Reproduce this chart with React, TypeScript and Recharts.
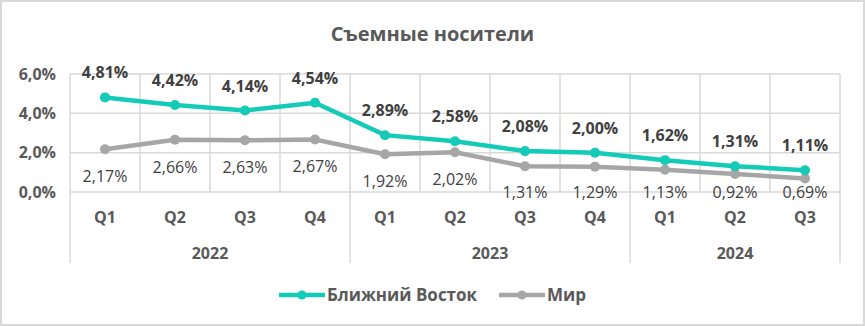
import React from 'react';
import { LineChart, Line, XAxis, YAxis, CartesianGrid, Legend, LabelList } from 'recharts';

const quarters = ['Q1', 'Q2', 'Q3', 'Q4', 'Q1', 'Q2', 'Q3', 'Q4', 'Q1', 'Q2', 'Q3'];
const years = ['2022', '2022', '2022', '2022', '2023', '2023', '2023', '2023', '2024', '2024', '2024'];
const middleEast = [4.81, 4.42, 4.14, 4.54, 2.89, 2.58, 2.08, 2.0, 1.62, 1.31, 1.11];
const world = [2.17, 2.66, 2.63, 2.67, 1.92, 2.02, 1.31, 1.29, 1.13, 0.92, 0.69];
const yTicks = [0, 2, 4, 6];

const data = quarters.map((q, i) => ({ q, year: years[i], me: middleEast[i], world: world[i] }));

const W = 865;
const H = 326;
const M = { top: 74, right: 25, bottom: 63, left: 10 };
const Y_AXIS_W = 60;
const X_AXIS_H = 71;
const PLOT_LEFT = M.left + Y_AXIS_W;
const PLOT_W = W - PLOT_LEFT - M.right;
const PLOT_BOTTOM = H - M.bottom - X_AXIS_H;
const BAND = PLOT_W / quarters.length;

const TEAL = '#14CBB7';
const GRAY = '#A6A6A6';
const GRID = '#D9D9D9';
const TEXT = '#595959';
const FONT = '"Open Sans", sans-serif';

const fmt = (v: number, d: number) => v.toFixed(d).replace('.', ',') + '%';

function QuarterTick(props: any) {
  const { x, y, payload, index } = props;
  const i = index ?? payload.index;
  const yr = years[i];
  const start = years.indexOf(yr);
  const end = years.lastIndexOf(yr);
  const center = (start + end) / 2;
  return (
    <g>
      <text x={x} y={y + 25} textAnchor="middle" dominantBaseline="central"
        fontFamily={FONT} fontSize={16} fontWeight="bold" fill={TEXT}>{payload.value}</text>
      {i === start && <line x1={x - BAND / 2} x2={x - BAND / 2} y1={y} y2={y + X_AXIS_H} stroke={GRID} strokeWidth={1.5} />}
      {i === quarters.length - 1 && <line x1={x + BAND / 2} x2={x + BAND / 2} y1={y} y2={y + X_AXIS_H} stroke={GRID} strokeWidth={1.5} />}
      {i === Math.floor(center) && (
        <text x={x + (center - i) * BAND} y={y + 61} textAnchor="middle" dominantBaseline="central"
          fontFamily={FONT} fontSize={16} fontWeight="bold" fill={TEXT}>{yr}</text>
      )}
    </g>
  );
}

const pos = (p: any) => ({
  x: p.x ?? p.viewBox?.x ?? 0,
  y: p.y ?? p.viewBox?.y ?? 0,
});

function TopLabel(p: any) {
  const { x, y } = pos(p);
  return (
    <text x={x} y={y - 25} textAnchor="middle" dominantBaseline="central"
      fontFamily={FONT} fontSize={16} fontWeight="bold" fill="#404040">{fmt(p.value, 2)}</text>
  );
}

function BottomLabel(p: any) {
  const { x, y } = pos(p);
  return (
    <text x={x} y={Math.min(y + 27, PLOT_BOTTOM)} textAnchor="middle" dominantBaseline="central"
      fontFamily={FONT} fontSize={16} fill="#404040">{fmt(p.value, 2)}</text>
  );
}

function LegendContent() {
  const items = [
    { name: 'Ближний Восток', color: TEAL },
    { name: 'Мир', color: GRAY },
  ];
  return (
    <div style={{ display: 'flex', justifyContent: 'center', gap: 22, fontFamily: FONT }}>
      {items.map((it) => (
        <div key={it.name} style={{ display: 'flex', alignItems: 'center' }}>
          <svg width={46} height={14}>
            <line x1={1} x2={45} y1={7} y2={7} stroke={it.color} strokeWidth={4.5} strokeLinecap="round" />
            <circle cx={23} cy={7} r={4.5} fill={it.color} />
          </svg>
          <span style={{ fontSize: 17, fontWeight: 'bold', color: TEXT, marginLeft: 2 }}>{it.name}</span>
        </div>
      ))}
    </div>
  );
}

export default function App() {
  return (
    <div style={{ position: 'absolute', left: 0, top: 0, width: W, height: H, background: '#fff' }}>
      <div style={{ position: 'absolute', left: 0, top: 20, width: W, textAlign: 'center', fontFamily: FONT,
        fontSize: 20, fontWeight: 'bold', color: TEXT }}>Съемные носители</div>
      <LineChart width={W} height={H} data={data} margin={M}>
        <CartesianGrid stroke={GRID} strokeWidth={1.5}
          verticalCoordinatesGenerator={({ offset }: any) =>
            Array.from({ length: quarters.length + 1 }, (_, i) => offset.left + (i * offset.width) / quarters.length)} />
        <XAxis dataKey="q" interval={0} height={X_AXIS_H} tickSize={0} tickMargin={0}
          padding={{ left: BAND / 2, right: BAND / 2 }}
          axisLine={false} tickLine={false} tick={<QuarterTick />} />
        <YAxis width={Y_AXIS_W} domain={[0, 6]} ticks={yTicks} axisLine={false} tickLine={false} tickMargin={8}
          tickFormatter={(v: number) => fmt(v, 1)}
          tick={{ fontFamily: FONT, fontSize: 16, fontWeight: 'bold', fill: TEXT }} />
        <Legend verticalAlign="middle" align="center" layout="horizontal" content={<LegendContent />}
          wrapperStyle={{ top: 283, left: 0, width: W }} />
        <Line dataKey="world" name="Мир" stroke={GRAY} strokeWidth={4.5} isAnimationActive={false}
          dot={{ r: 5, fill: GRAY, stroke: 'none' }} activeDot={false}>
          <LabelList dataKey="world" content={<BottomLabel />} />
        </Line>
        <Line dataKey="me" name="Ближний Восток" stroke={TEAL} strokeWidth={4.5} isAnimationActive={false}
          dot={{ r: 5, fill: TEAL, stroke: 'none' }} activeDot={false}>
          <LabelList dataKey="me" content={<TopLabel />} />
        </Line>
      </LineChart>
      <div style={{ position: 'absolute', left: 0, top: 0, width: W, height: H, boxSizing: 'border-box',
        border: `2px solid ${GRID}`, pointerEvents: 'none' }} />
    </div>
  );
}
